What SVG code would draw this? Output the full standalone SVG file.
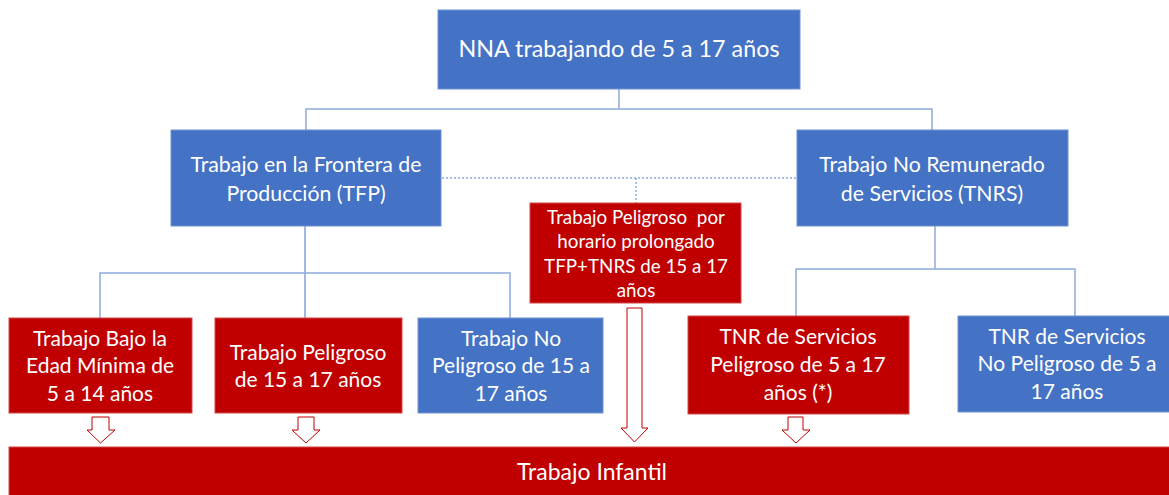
<svg xmlns="http://www.w3.org/2000/svg" width="1169" height="495" viewBox="0 0 1169 495">
<style>
.blue{fill:#4472C4;stroke:#6F93D3;stroke-width:1}
.red{fill:#C00000;stroke:#D24A4A;stroke-width:1}
text{font-family:Lato,"Open Sans","Liberation Sans",sans-serif;fill:#ffffff;text-anchor:middle}
.t24{font-size:23.3px}
.t20{font-size:21.3px}
.t19{font-size:21px}
.t17{font-size:18.8px}
.t22{font-size:23px}
.c1{fill:none;stroke:#8FAADC;stroke-width:1.5}
.c2{fill:none;stroke:#4472C4;stroke-width:1}
.dot{fill:none;stroke:#8FAADC;stroke-width:1.5;stroke-dasharray:2 2}
.arr{fill:#ffffff;stroke:#C00000;stroke-width:1}
</style>
<rect width="1169" height="495" fill="#ffffff"/>
<g id="connectors">
<path class="c1" d="M619 89V109M306 130V109H932V130"/>
<path class="c2" d="M305 226V318"/>
<path class="c1" d="M100 318V273H510V318"/>
<path class="c1" d="M935 226V269M796 316V269H1075V316"/>
<path class="dot" d="M442 178H797M636 178V203"/>
<path class="arr" d="M92 417H109V430H115L100.5 443L87 430H92Z"/>
<path class="arr" d="M298 417H314V430H320L306 443L292 430H298Z"/>
<path class="arr" d="M627 308H642V428H648L634.5 442L621 428H627Z"/>
<path class="arr" d="M788 417H803V430H810L796 443L782 430H788Z"/>
</g>
<g id="n-top"><rect class="blue" x="438" y="10" width="362" height="79"/><text class="t24" x="619" y="57">NNA trabajando de 5 a 17 años</text></g>
<g id="n-tfp"><rect class="blue" x="171" y="130" width="270" height="96"/><text class="t20" x="306" y="172">Trabajo en la Frontera de</text><text class="t20" x="306" y="201">Producción (TFP)</text></g>
<g id="n-tnrs"><rect class="blue" x="797" y="130" width="271" height="96"/><text class="t20" x="932" y="172">Trabajo No Remunerado</text><text class="t20" x="932" y="201">de Servicios (TNRS)</text></g>
<g id="n-mid"><rect class="red" x="530" y="203" width="211" height="100"/><text class="t17" x="636" y="224">Trabajo Peligroso&#160; por</text><text class="t17" x="636" y="248">horario prolongado</text><text class="t17" x="636" y="273">TFP+TNRS de 15 a 17</text><text class="t17" x="636" y="297">años</text></g>
<g id="n-b1"><rect class="red" x="9" y="318" width="183" height="95"/><text class="t19" x="100" y="346">Trabajo Bajo la</text><text class="t19" x="100" y="373">Edad Mínima de</text><text class="t19" x="100" y="401">5 a 14 años</text></g>
<g id="n-b2"><rect class="red" x="215" y="318" width="187" height="95"/><text class="t19" x="308" y="360">Trabajo Peligroso</text><text class="t19" x="308" y="387">de 15 a 17 años</text></g>
<g id="n-b3"><rect class="blue" x="418" y="318" width="185" height="95"/><text class="t19" x="511" y="346">Trabajo No</text><text class="t19" x="511" y="373">Peligroso de 15 a</text><text class="t19" x="511" y="401">17 años</text></g>
<g id="n-b4"><rect class="red" x="688" y="316" width="221" height="98"/><text class="t19" x="798" y="344">TNR de Servicios</text><text class="t19" x="798" y="372">Peligroso de 5 a 17</text><text class="t19" x="798" y="400">años (*)</text></g>
<g id="n-b5"><rect class="blue" x="958" y="316" width="212" height="96"/><text class="t19" x="1067" y="344">TNR de Servicios</text><text class="t19" x="1067" y="371">No Peligroso de 5 a</text><text class="t19" x="1067" y="399">17 años</text></g>
<g id="n-ti"><rect class="red" x="9" y="447" width="1161" height="49"/><text class="t22" x="592" y="480">Trabajo Infantil</text></g>
</svg>
